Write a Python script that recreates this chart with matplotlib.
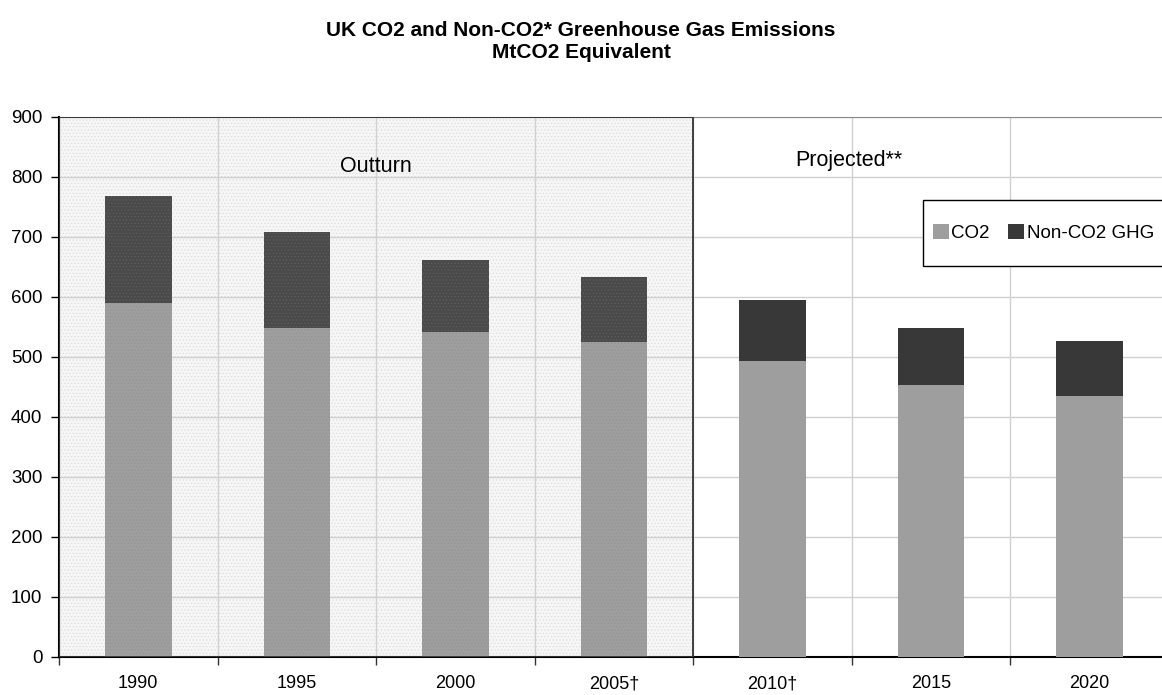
import numpy as np
import matplotlib.pyplot as plt
from matplotlib.patches import Rectangle, Patch

plt.rcParams['font.family'] = ['Liberation Sans', 'DejaVu Sans']
plt.rcParams['hatch.linewidth'] = 0.5

years = ['1990', '1995', '2000', '2005\u2020', '2010\u2020', '2015', '2020']
co2 = [590, 548, 541, 525, 493, 453, 435]
non_co2 = [179, 161, 121, 108, 102, 95, 91]
n_outturn = 4

fig = plt.figure(figsize=(11.62, 6.95), dpi=100)
ax = fig.add_axes([0.0508, 0.0547, 0.955, 0.777])

x = np.arange(len(years))
width = 0.42

# shaded outturn block: light dotted fill plus a dark frame
ax.add_patch(Rectangle((-0.5, 0), n_outturn, 900, facecolor='#f6f6f6',
                       edgecolor='#dddddd', linewidth=0, hatch='.....', zorder=0.5))
ax.add_patch(Rectangle((-0.5, 0), n_outturn, 900, facecolor='none',
                       edgecolor='#333333', linewidth=1.3, zorder=4))

# stacked bars, textured in the outturn years
for i in x:
    outturn = i < n_outturn
    ax.bar(i, co2[i], width, color='#9e9e9e',
           edgecolor='#949494' if outturn else '#9e9e9e',
           hatch='.....' if outturn else None, linewidth=0, zorder=3)
    ax.bar(i, non_co2[i], width, bottom=co2[i],
           color='#4a4a4a' if outturn else '#383838',
           edgecolor='#5e5e5e' if outturn else '#383838',
           hatch='.....' if outturn else None, linewidth=0, zorder=3)

ax.set_xlim(-0.5, len(years) - 0.5)
ax.set_ylim(0, 900)
ax.set_yticks(range(0, 901, 100))

# boundary ticks and centred labels
ax.set_xticks(np.arange(-0.5, len(years), 1.0))
ax.set_xticklabels([])
ax.set_xticks(x, minor=True)
ax.set_xticklabels(years, minor=True)
ax.tick_params(axis='x', which='minor', length=0, pad=13, labelsize=13)
ax.tick_params(axis='x', which='major', length=6, width=1, color='#333333')
ax.tick_params(axis='y', length=6, width=1, labelsize=13.5, pad=6)

ax.grid(True, which='major', color='#d0d0d0', linewidth=1, zorder=1)
ax.set_axisbelow(True)

ax.spines['right'].set_visible(False)
ax.spines['top'].set_color('#888888')
ax.spines['left'].set_linewidth(1.5)
ax.spines['bottom'].set_linewidth(1.5)

ax.text(1.5, 818, 'Outturn', ha='center', va='center', fontsize=15.5)
ax.text(4.48, 828, 'Projected**', ha='center', va='center', fontsize=15.5)

# legend: box drawn separately so it can run off the right edge
fig.patches.append(Rectangle((923 / 1162, 1 - 266 / 695), 260 / 1162, 66 / 695,
                             transform=fig.transFigure, facecolor='white',
                             edgecolor='black', linewidth=1, zorder=5))
handles = [Patch(facecolor='#9e9e9e', label='CO2'),
           Patch(facecolor='#383838', label='Non-CO2 GHG')]
leg = fig.legend(handles=handles, loc='center left',
                 bbox_to_anchor=(929 / 1162, 1 - 233 / 695),
                 ncol=2, frameon=False, fontsize=13.5,
                 handlelength=0.85, handleheight=0.85, handletextpad=0.15,
                 columnspacing=0.95, borderpad=0.2, borderaxespad=0)
leg.set_zorder(6)

fig.text(0.5, 1 - 30 / 695, 'UK CO2 and Non-CO2* Greenhouse Gas Emissions',
         ha='center', va='center', fontsize=15, fontweight='bold')
fig.text(0.5, 1 - 53 / 695, 'MtCO2 Equivalent', ha='center', va='center',
         fontsize=15, fontweight='bold')

fig.savefig('out.png', dpi=100)
